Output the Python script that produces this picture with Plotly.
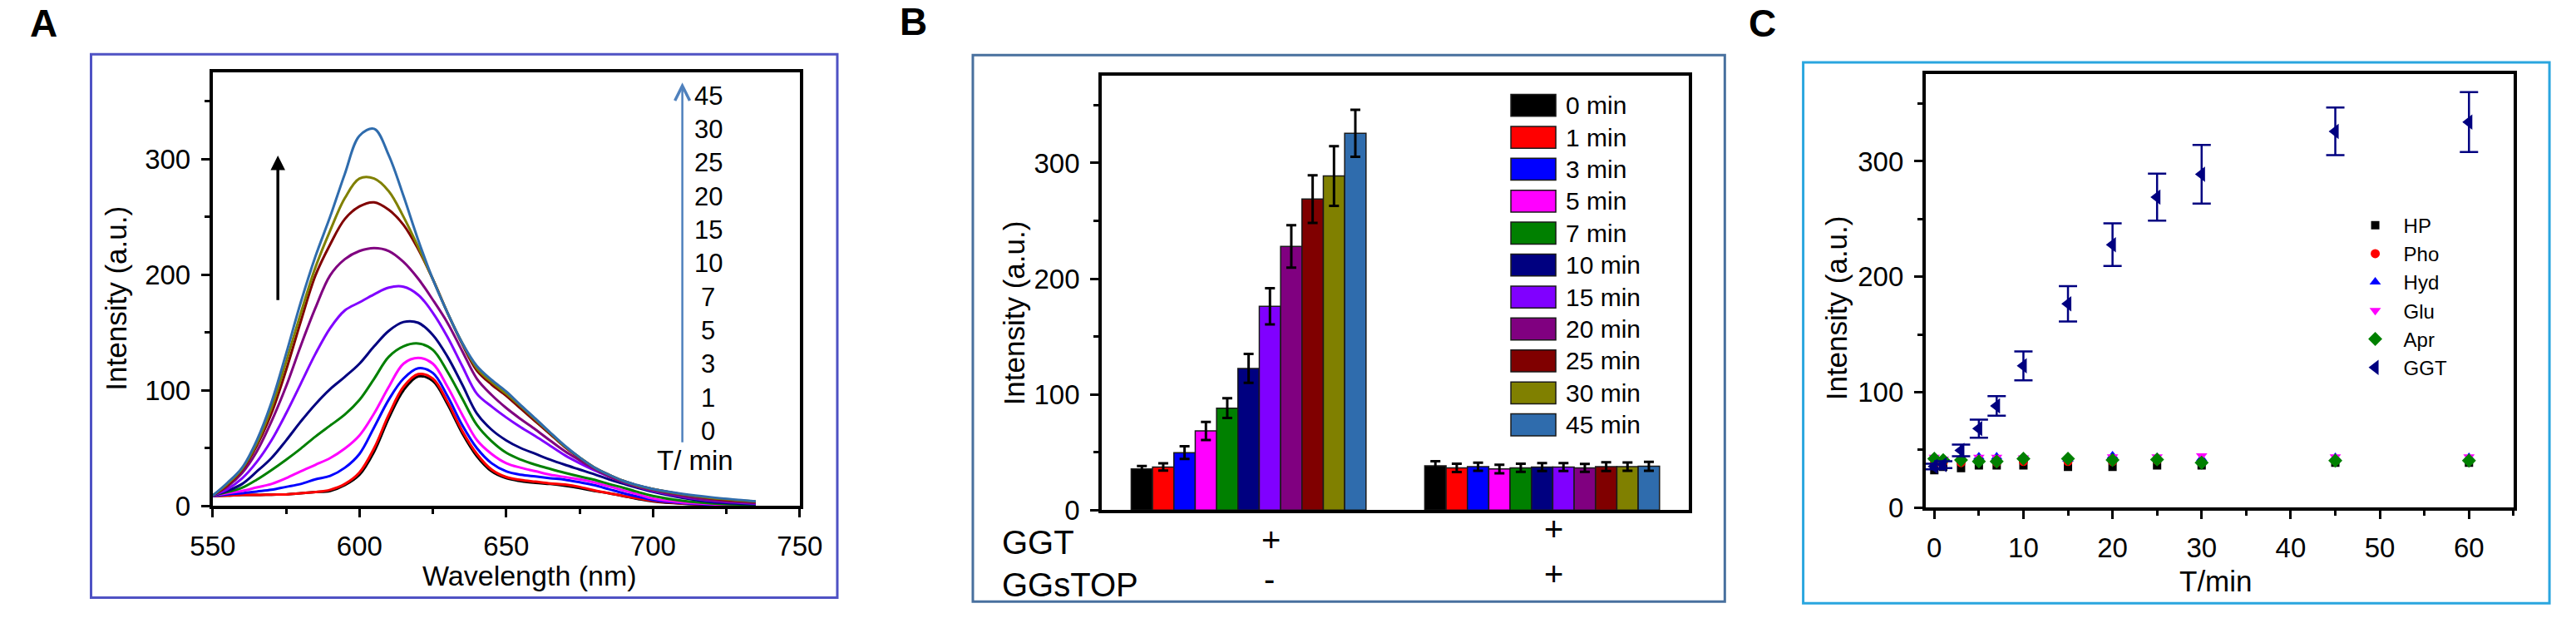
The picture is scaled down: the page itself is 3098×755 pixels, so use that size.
import plotly.graph_objects as go

W, H = 3098, 755
FONT = "Liberation Sans, Arial, sans-serif"

# ---------- panel A: emission spectra ----------
wavelength = [550, 555, 560, 565, 570, 575, 580, 585, 590, 595, 600, 605, 610, 615, 620,
              625, 630, 635, 640, 645, 650, 655, 660, 665, 670, 675, 680, 685, 690, 695,
              700, 710, 720, 735]
spec_0min = [8.7, 9, 9.5, 9.5, 9.8, 10, 11, 12, 13, 18, 27, 47, 76, 100, 112, 108, 88, 63, 43,
             30, 24, 21.5, 20, 19, 17.5, 15.5, 13, 11, 8.5, 6, 4, 2, 1, 0.5]
spec_1min = [8.7, 9, 9.5, 9.5, 9.8, 10, 11, 12, 14, 19, 29, 50, 79, 103, 114, 110, 90, 65, 45,
             31.5, 25, 22.5, 21, 19.5, 18.5, 16.5, 13.5, 11, 8.7, 6.5, 4.5, 2.2, 1.2, 0.6]
spec_3min = [8.7, 10, 11, 12.5, 14, 16.5, 19, 23, 26, 33, 45, 68, 92, 110, 119, 115, 95, 70, 50,
             37, 30, 27, 25.5, 24, 22.7, 20.5, 18, 14.5, 11, 8, 5.2, 2.5, 1.2, 0.6]
spec_5min = [9, 11, 13, 16, 19, 24, 30, 35.6, 41.4, 49.6, 61, 80, 103, 123, 128, 123, 103, 79, 57,
             45, 37, 33, 30, 27, 25, 23, 20.4, 17, 13.4, 10, 6.4, 3, 1.5, 0.7]
spec_7min = [9, 12, 15.7, 22.7, 31, 40, 49.6, 60, 69.5, 79, 91.7, 110, 129, 138, 140.5, 135, 116,
             93, 70, 56, 46, 40, 35.6, 32, 28.6, 25.5, 22.7, 19, 15.7, 12, 8.7, 4.5, 2.2, 1]
spec_10min = [9, 13, 19, 29.7, 41.4, 56.6, 73, 88, 101, 111.6, 123, 138, 151.4, 159, 158.4, 147.8,
              129, 105, 80, 66, 56.7, 50, 45, 40, 35.6, 31.5, 27.4, 23, 19.2, 15.5, 12.2, 7, 3.5, 1.5]
spec_15min = [9, 14.5, 23.8, 38, 56.6, 80, 105.7, 131.5, 153.7, 169, 176, 183, 188.8, 189.5, 182.5,
              167, 146, 121, 97, 86, 76.5, 68, 60.2, 52, 43.8, 37, 30.9, 25.5, 20.4, 16.5, 13, 8, 4.5, 2]
spec_20min = [9, 16.8, 28.5, 47, 73, 103.4, 138.5, 171.2, 199.3, 213.3, 220.4, 223, 220.4, 211, 196.5,
              178.2, 158.3, 134, 110, 96, 84.7, 75, 66, 56.5, 47.3, 39.5, 32, 25.5, 20.4, 16.5, 13.4,
              8.5, 5, 2.5]
spec_25min = [9, 18, 31, 52, 80, 117.4, 159.5, 199.3, 226, 248, 259, 262.5, 256, 243, 222, 196, 167,
              140, 117, 105, 95.3, 84, 73, 62, 50.8, 41.5, 33.3, 27, 21.6, 17.5, 14.6, 10, 6.5, 3.5]
spec_30min = [9, 19, 32, 54, 84.7, 124.5, 166.5, 206.3, 238, 266, 283, 283, 272, 250, 224, 196, 167,
              141, 119, 107, 97, 86, 74.5, 63, 51.5, 42, 33.3, 27, 21.6, 17.5, 14.6, 10, 6.8, 3.8]
spec_45min = [9, 20, 33, 56.6, 89.4, 131.5, 176, 215.7, 250, 287, 320, 326, 303, 268, 230, 196, 167,
              141, 121, 109, 99, 87, 75.4, 63.5, 52, 42, 33.3, 27, 21.6, 17.8, 14.6, 10.5, 7.5, 4]
spectra = [spec_0min, spec_1min, spec_3min, spec_5min, spec_7min, spec_10min,
           spec_15min, spec_20min, spec_25min, spec_30min, spec_45min]

time_min = [0, 1, 3, 5, 7, 10, 15, 20, 25, 30, 45]
time_colors = ["#000000", "#ff0000", "#0000ff", "#ff00ff", "#008000", "#000080",
               "#8000ff", "#800080", "#800000", "#808000", "#2f6cad"]

# ---------- panel B: bar chart ----------
groups = ["GGT+ GGsTOP-", "GGT+ GGsTOP+"]
no_inhib = [35.6, 37.2, 49.6, 68.4, 88.1, 122.4, 176.1, 227.9, 268.8, 288.8, 325.6]
no_inhib_err = [2.5, 3.1, 5.5, 7.8, 8.6, 12.5, 15.6, 18.4, 20.6, 25.8, 20.3]
with_inhib = [38.2, 36.5, 37.5, 35.5, 36.5, 37.2, 37.2, 36.5, 37.5, 37.5, 37.8]
with_inhib_err = [4, 3.6, 3.5, 3.7, 3.5, 3.4, 3.4, 3.4, 3.8, 3.6, 3.8]

# ---------- panel C: selectivity vs time ----------
t_min = [0, 1, 3, 5, 7, 10, 15, 20, 25, 30, 45, 60]
hp = [32.5, 35.3, 34.2, 36.6, 36.6, 36.6, 35.3, 35.3, 36.6, 36.6, 39, 39]
pho = [38, 39, 39, 40, 39, 40, 40, 40, 41, 40, 41, 41]
hyd = [43, 42, 43, 44, 44, 43.5, 42, 44.8, 43.5, 42.5, 43.4, 43.4]
glu = [43.6, 42, 42.5, 43.6, 43.6, 43, 41.2, 44, 44, 44.8, 44, 44]
apr = [42.4, 41.2, 41.2, 40, 40, 42.4, 42.4, 41.2, 41.7, 38.9, 40.7, 40.7]
ggt = [35.6, 37.2, 49.5, 68.4, 88.1, 122.8, 176.5, 227.8, 269, 288.8, 326, 334]
ggt_err = [2.5, 3, 5, 7.8, 8.5, 12.5, 15.3, 18.5, 20.3, 25.4, 20.7, 26]


def px(x):
    return x / W


def py(y):
    return 1 - y / H


fig = go.Figure()

for t, col, ys in zip(time_min, time_colors, spectra):
    fig.add_trace(go.Scatter(x=wavelength, y=ys, mode="lines", line=dict(color=col, width=3, shape="spline"),
                             showlegend=False, xaxis="x", yaxis="y"))

for k, (t, col) in enumerate(zip(time_min, time_colors)):
    fig.add_trace(go.Bar(x=groups, y=[no_inhib[k], with_inhib[k]], name=f"{t} min",
                         marker=dict(color=col, line=dict(color="#1a1a1a", width=1.5)),
                         error_y=dict(type="data", array=[no_inhib_err[k], with_inhib_err[k]],
                                      color="black", thickness=3, width=6),
                         showlegend=False, xaxis="x2", yaxis="y2"))

series_c = [("HP", hp, "#000000", "square", 10), ("Pho", pho, "#ff0000", "circle", 11),
            ("Hyd", hyd, "#0000ff", "triangle-up", 12), ("Glu", glu, "#ff00ff", "triangle-down", 12),
            ("Apr", apr, "#008000", "diamond", 13)]
for name, ys, col, sym, sz in series_c:
    fig.add_trace(go.Scatter(x=t_min, y=ys, mode="markers", name=name,
                             marker=dict(color=col, symbol=sym, size=sz),
                             legend="legend2", xaxis="x3", yaxis="y3"))
fig.add_trace(go.Scatter(x=t_min, y=ggt, mode="markers", name="GGT",
                         marker=dict(color="#000080", symbol="triangle-left", size=16),
                         error_y=dict(type="data", array=ggt_err, color="#000080", thickness=2.5, width=11),
                         legend="legend2", xaxis="x3", yaxis="y3"))


def axis(**kw):
    d = dict(showline=True, linecolor="black", linewidth=4, mirror=True, showgrid=False,
             zeroline=False, ticks="outside", ticklen=10, tickwidth=3, tickcolor="black",
             ticklabelstandoff=6, tickfont=dict(family=FONT, size=33, color="black"))
    d.update(kw)
    return d


def minor(step, start):
    return dict(ticks="outside", ticklen=6, tickwidth=3, tickcolor="black", dtick=step, tick0=start)


ann = []


def text(x, y, s, size, **kw):
    d = dict(xref="paper", yref="paper", x=px(x), y=py(y), text=s, showarrow=False,
             font=dict(family=FONT, size=size, color="black"), xanchor="center", yanchor="middle")
    d.update(kw)
    ann.append(d)


# panel letters
text(25, 29, "<b>A</b>", 46)
text(1090, 27, "<b>B</b>", 46)
text(2130, 29, "<b>C</b>", 46)

# axis titles
text(114, 368, "Intensity (a.u.)", 35, textangle=-90)
text(620, 710, "Wavelength (nm)", 34)
text(1213, 386, "Intensity (a.u.)", 35, textangle=-90)
text(2221, 380, "Intensity (a.u.)", 35, textangle=-90)
text(2686, 717, "T/min", 35)

# time scale beside the spectra
for k, t in enumerate(time_min):
    text(839, 532 - 41.4 * k, str(t), 31)
text(823, 568, "T/ min", 33)
ann.append(dict(xref="x", yref="y", axref="x", ayref="y", x=710, y=366, ax=710, ay=54, text="",
                showarrow=True, arrowhead=5, arrowsize=1.4, arrowwidth=2.5, arrowcolor="#4f81bd"))
ann.append(dict(xref="x", yref="y", axref="x", ayref="y", x=572.2, y=303, ax=572.2, ay=177, text="",
                showarrow=True, arrowhead=2, arrowsize=1.0, arrowwidth=3.5, arrowcolor="black"))

# panel B condition labels
text(1197, 669, "GGT", 40, xanchor="left")
text(1197, 721, "GGsTOP", 40, xanchor="left")
text(1528, 666, "+", 40)
text(1526, 714, "-", 40)
text(1874, 652, "+", 40)
text(1874, 708, "+", 40)

shapes = []
# panel B legend built by hand (large colour boxes)
for k, t in enumerate(time_min):
    cy = 129.9 + 39.4 * k
    shapes.append(dict(type="rect", xref="paper", yref="paper", x0=px(1822), x1=px(1877),
                       y0=py(cy + 13.5), y1=py(cy - 13.5), fillcolor=time_colors[k],
                       line=dict(color="#1a1a1a", width=1.5)))
    text(1887, cy, f"{t} min", 30, xanchor="left")

# coloured panel frames
for x0, x1, y0, y1, col in [(83, 997, 67, 737, "#4f52c4"), (1163, 2084, 68, 742, "#48709e"),
                            (2180, 3094, 77, 744, "#2aa6df")]:
    shapes.append(dict(type="rect", xref="paper", yref="paper", x0=px(x0), x1=px(x1),
                       y0=py(y1), y1=py(y0), line=dict(color=col, width=3)))

fig.update_layout(
    width=W, height=H, margin=dict(l=0, r=0, t=0, b=0),
    paper_bgcolor="white", plot_bgcolor="white",
    font=dict(family=FONT, color="black"),
    barmode="group", bargap=0.2, bargroupgap=0,
    xaxis=axis(domain=[px(232), px(951)], range=[550, 750], dtick=50, tick0=550,
               minor=minor(25, 550), anchor="y"),
    yaxis=axis(domain=[py(624), py(89)], range=[0, 375], dtick=100, tick0=0,
               minor=minor(50, 0), anchor="x"),
    xaxis2=axis(domain=[px(1321), px(2040)], range=[-0.5, 1.5], showticklabels=False,
                ticks="", anchor="y2"),
    yaxis2=axis(domain=[py(629), py(93)], range=[0, 375.7], dtick=100, tick0=0,
                minor=minor(50, 0), anchor="x2"),
    xaxis3=axis(domain=[px(2330), px(3050)], range=[-0.97, 65], dtick=10, tick0=0,
                minor=minor(5, 0), anchor="y3"),
    yaxis3=axis(domain=[py(626), py(91.5)], range=[0, 375.5], dtick=100, tick0=0,
                minor=minor(50, 0), anchor="x3"),
    legend2=dict(x=px(2846), y=py(255), xanchor="left", yanchor="top", itemwidth=58,
                 bgcolor="rgba(0,0,0,0)", tracegroupgap=0,
                 font=dict(family=FONT, size=24, color="black")),
    annotations=ann, shapes=shapes,
)

page_css = ("document.documentElement.style.margin='0';document.documentElement.style.overflow='hidden';"
            "document.body.style.margin='0';document.body.style.padding='0';"
            "document.body.style.overflow='hidden';")
fig.write_html("out.html", config={"displayModeBar": False, "responsive": False}, post_script=page_css)
